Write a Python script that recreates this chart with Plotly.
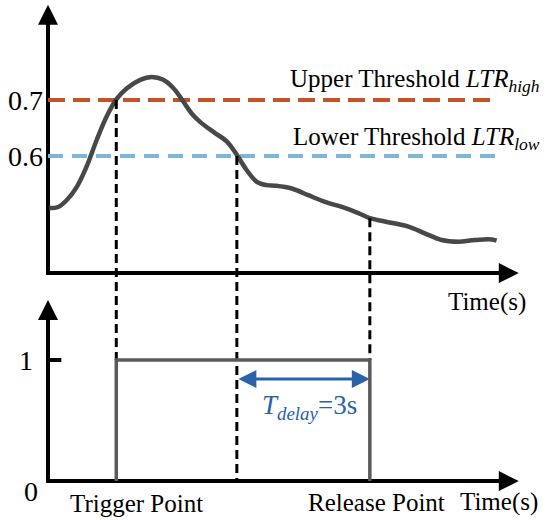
import plotly.graph_objects as go

# light-to-temperature ratio curve (time in s, ratio value)
curve_t = [0.03, 0.23, 0.42, 0.65, 0.87, 1.10, 1.32, 1.54, 1.78, 2.08, 2.34, 2.60,
           2.83, 3.02, 3.24, 3.43, 3.73, 4.03, 4.26, 4.48, 4.71, 4.93, 5.12, 5.50,
           5.87, 6.25, 6.63, 7.00, 7.26, 7.60, 8.13, 8.50, 8.88, 9.26, 9.63, 10.01, 10.12]
curve_v = [0.507, 0.509, 0.521, 0.545, 0.581, 0.629, 0.670, 0.701, 0.721, 0.736, 0.741, 0.736,
           0.721, 0.701, 0.676, 0.661, 0.643, 0.626, 0.602, 0.575, 0.554, 0.548, 0.547, 0.542,
           0.530, 0.518, 0.509, 0.498, 0.489, 0.483, 0.474, 0.462, 0.450, 0.447, 0.450, 0.451, 0.449]

upper_thr = 0.7
lower_thr = 0.6
thr_end = 10.13

t_trigger = 1.54
t_low = 4.26
t_delay = 3
t_release = t_low + t_delay
v_release = 0.489

# output signal (0/1)
sig_t = [t_trigger, t_trigger, t_release, t_release]
sig_v = [0, 1, 1, 0]

# axis extents
top_base = 0.391
top_tip = 0.870
bot_tip = 1.496
x_tip = 10.62

XR = [-1.083, 11.324]
YR = [-0.05, 0.8786]
Y2R = [-0.322, 3.975]


def to_y2(v):
    f = (v - YR[0]) / (YR[1] - YR[0])
    return Y2R[0] + f * (Y2R[1] - Y2R[0])


FONT = "Liberation Serif, Times New Roman, serif"
fig = go.Figure()

# axes (L shapes)
fig.add_trace(go.Scatter(x=[0, 0, x_tip - 0.2], y=[top_tip - 0.02, top_base, top_base], mode="lines",
                         line=dict(color="black", width=4), hoverinfo="skip"))
fig.add_trace(go.Scatter(x=[0, 0, x_tip - 0.3], y=[bot_tip - 0.1, 0, 0], mode="lines", yaxis="y2",
                         line=dict(color="black", width=4), hoverinfo="skip"))
fig.add_trace(go.Scatter(x=[0, 0.3], y=[1, 1], mode="lines", yaxis="y2",
                         line=dict(color="black", width=4), hoverinfo="skip"))

# thresholds
fig.add_trace(go.Scatter(x=[0, thr_end], y=[upper_thr, upper_thr], mode="lines",
                         line=dict(color="#c4532c", width=4, dash="17px,8px")))
fig.add_trace(go.Scatter(x=[0, thr_end], y=[lower_thr, lower_thr], mode="lines",
                         line=dict(color="#7db7d5", width=4, dash="15px,9px")))

# guide lines
for tt, top, bottom in [(t_trigger, upper_thr, 1), (t_low, lower_thr, 0), (t_release, v_release, 1)]:
    fig.add_trace(go.Scatter(x=[tt, tt], y=[to_y2(top), bottom], mode="lines", yaxis="y2",
                             line=dict(color="black", width=3, dash="9px,5px")))

fig.add_trace(go.Scatter(x=curve_t, y=curve_v, mode="lines",
                         line=dict(color="#484848", width=4.5, shape="spline", smoothing=1)))
fig.add_trace(go.Scatter(x=sig_t, y=sig_v, mode="lines", yaxis="y2",
                         line=dict(color="#5a5a5a", width=3.5)))

anns = []
# arrow heads
head = dict(showarrow=True, arrowhead=2, arrowsize=1, arrowwidth=4, arrowcolor="black", text="")
anns.append(dict(x=0, y=top_tip, ax=0, ay=top_tip - 0.05, xref="x", yref="y", axref="x", ayref="y", **head))
anns.append(dict(x=x_tip, y=top_base, ax=x_tip - 0.5, ay=top_base, xref="x", yref="y", axref="x", ayref="y", **head))
anns.append(dict(x=0, y=bot_tip, ax=0, ay=bot_tip - 0.2, xref="x", yref="y2", axref="x", ayref="y2", **head))
anns.append(dict(x=x_tip, y=0, ax=x_tip - 0.5, ay=0, xref="x", yref="y2", axref="x", ayref="y2", **head))
# T_delay arrow
anns.append(dict(x=t_release, y=0.843, ax=t_low, ay=0.843, xref="x", yref="y2", axref="x", ayref="y2",
                 showarrow=True, arrowhead=2, arrowside="end+start", arrowsize=1.2, arrowwidth=3,
                 arrowcolor="#2a62aa", text=""))

txt = dict(font=dict(family=FONT, size=25, color="black"), showarrow=False)
num = dict(font=dict(family=FONT, size=28, color="black"), showarrow=False)
anns += [
    dict(x=0, y=upper_thr, xref="x", yref="y", text="0.7", xanchor="right", xshift=-3, **num),
    dict(x=0, y=lower_thr, xref="x", yref="y", text="0.6", xanchor="right", xshift=-3, **num),
    dict(x=0, y=1, xref="x", yref="y2", text="1", xanchor="right", xshift=-13, **num),
    dict(x=0, y=0, xref="x", yref="y2", text="0", xanchor="right", xshift=-8, yshift=-10, **num),
    dict(x=11.14, y=upper_thr, xref="x", yref="y", xanchor="right", yshift=20,
         text="Upper Threshold <i>LTR</i><sub><i>high</i></sub>", **txt),
    dict(x=11.14, y=lower_thr, xref="x", yref="y", xanchor="right", yshift=18,
         text="Lower Threshold <i>LTR</i><sub><i>low</i></sub>", **txt),
    dict(x=9.90, y=top_base, xref="x", yref="y", yshift=-29, text="Time(s)", **txt),
    dict(x=10.17, y=0, xref="x", yref="y2", yshift=-21, text="Time(s)", **txt),
    dict(x=0.45, y=0, xref="x", yref="y2", xanchor="left", yshift=-22, text="Trigger Point", **txt),
    dict(x=t_release, y=0, xref="x", yref="y2", xshift=7, yshift=-21, text="Release Point", **txt),
    dict(x=(t_low + t_release) / 2, y=0.61, xref="x", yref="y2",
         text="<i>T</i><sub><i>delay</i></sub>=3s", xshift=6,
         font=dict(family=FONT, size=27, color="#2a62aa"), showarrow=False),
]

fig.update_layout(
    width=550, height=520, margin=dict(l=0, r=0, t=0, b=0),
    paper_bgcolor="white", plot_bgcolor="white", showlegend=False,
    xaxis=dict(range=XR, visible=False, domain=[0, 1]),
    yaxis=dict(range=YR, visible=False, domain=[0, 1]),
    yaxis2=dict(range=Y2R, visible=False, overlaying="y"),
    annotations=anns,
)

fig.write_html("out.html", config=dict(displayModeBar=False),
               post_script="document.body.style.margin='0px';")
